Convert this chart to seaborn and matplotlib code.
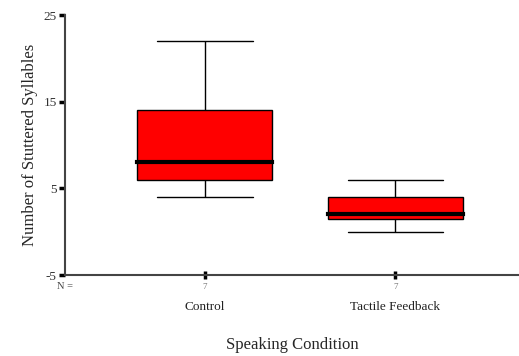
import matplotlib
matplotlib.use("Agg")
import matplotlib.pyplot as plt
import matplotlib.transforms as mtransforms
import seaborn as sns
import pandas as pd

# stuttered syllables per speaker, 7 speakers per condition
conditions = ["Control", "Tactile Feedback"]
control = [4, 5, 7, 8, 12, 16, 22]
tactile = [0, 1, 2, 2, 3, 5, 6]
y_ticks = [-5, 5, 15, 25]

df = pd.DataFrame({
    "condition": [conditions[0]] * len(control) + [conditions[1]] * len(tactile),
    "syllables": control + tactile,
})

sns.set_style("white")
plt.rcParams["font.family"] = ["Liberation Serif", "DejaVu Serif"]

fig = plt.figure(figsize=(5.19, 3.56), dpi=100)
ax = fig.add_axes([65 / 519, 81 / 356, 454 / 519, 260 / 356])

sns.boxplot(data=df, x="condition", y="syllables", order=conditions,
            color="red", saturation=1, width=0.71, linecolor="black",
            linewidth=1, whis=1.5, capwidths=0.5, ax=ax,
            medianprops=dict(color="black", linewidth=3, solid_capstyle="projecting"))

ax.set_ylim(-5, 25)
ax.set_xlim(-0.735, 1.65)
ax.set_yticks(y_ticks)
ax.set_yticklabels([str(t) for t in y_ticks], fontsize=9.5, color="#333333")
ax.set_xticks(range(len(conditions)))
ax.set_xticklabels(conditions, fontsize=9.5, color="#222222")
ax.tick_params(axis="x", bottom=True, direction="inout", length=6, width=2.5,
               color="black", pad=16)
ax.tick_params(axis="y", left=True, direction="out", length=4, width=2.5,
               color="black", pad=2)

for side in ["top", "right"]:
    ax.spines[side].set_visible(False)
for side in ["left", "bottom"]:
    ax.spines[side].set_color("#444444")
    ax.spines[side].set_linewidth(1.5)

# sample sizes under each box, SPSS style
trans = mtransforms.blended_transform_factory(ax.transData, ax.transAxes)
ax.text(-0.735, -0.045, "N =", transform=trans, ha="center", va="center",
        fontsize=7.5, color="#444444")
for i, vals in enumerate([control, tactile]):
    ax.text(i, -0.045, str(len(vals)), transform=trans, ha="center", va="center",
            fontsize=6.5, color="#777777")

ax.set_xlabel("Speaking Condition", fontsize=12, labelpad=17)
ax.set_ylabel("Number of Stuttered Syllables", fontsize=12, labelpad=4)

fig.savefig("out.png", dpi=100)
